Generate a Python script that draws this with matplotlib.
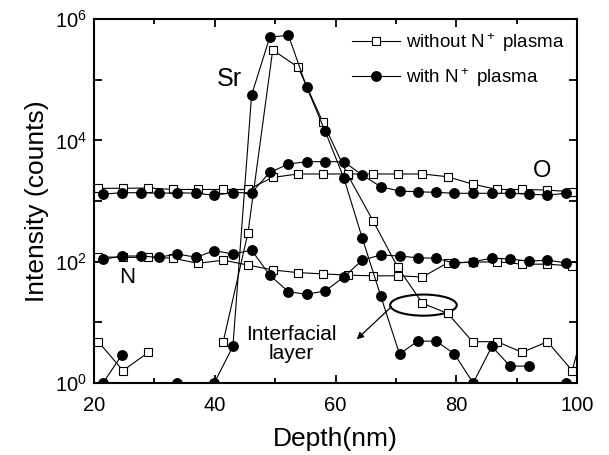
# SIMS depth profile: Sr, O and N with and without N+ plasma treatment

import numpy as np                       # for NaN gaps in the data
import matplotlib
matplotlib.use("Agg")
import matplotlib.pyplot as plt          # for plotting
from matplotlib.patches import Ellipse   # for the ellipse round the interface point
from matplotlib.ticker import LogLocator, FuncFormatter, MultipleLocator, NullLocator

plt.rcParams['font.family'] = ['Liberation Sans', 'DejaVu Sans']
plt.rcParams['mathtext.fontset'] = 'custom'
plt.rcParams['mathtext.rm'] = 'Liberation Sans'
plt.rcParams['mathtext.it'] = 'Liberation Sans:italic'
plt.rcParams['mathtext.bf'] = 'Liberation Sans:bold'

nan = np.nan

# depth grid of each measurement (nm)
depth_without = [20.7, 24.8, 29.0, 33.1, 37.2, 41.4, 45.5, 49.6, 53.8, 57.9, 62.0,
                 66.2, 70.3, 74.4, 78.6, 82.7, 86.8, 90.9, 95.1, 99.2, 103.4]
depth_with = [21.5, 24.6, 27.7, 30.7, 33.8, 36.9, 39.9, 43.0, 46.1, 49.1, 52.2, 55.2, 58.3,
              61.4, 64.4, 67.5, 70.6, 73.6, 76.7, 79.7, 82.8, 85.9, 88.9, 92.0, 95.1, 98.1]

# intensities (counts), without N+ plasma (open squares)
sr_without = [4.8, 1.6, 3.2, nan, nan, 4.8, 300, 3.1e5, 1.6e5, 2.0e4, 2700,
              475, 81, 20.6, 14, 4.8, 4.8, 3.2, 4.8, 1.6, 60]
o_without = [1620, 1620, 1640, 1550, 1550, 1550, 1550, 2450, 2790, 2790, 2790,
             2790, 2790, 2790, 2510, 1900, 1550, 1550, 1515, 1420, nan]
n_without = [120, 118, 118, 114, 94, 106, 88, 73, 66, 63, 60,
             58.5, 58.5, 56, 96, 98, 100, 91, 91, 85, nan]

# intensities (counts), with N+ plasma (filled circles)
sr_with = [1, 2.9, nan, nan, 1, nan, 1, 4, 5.6e4, 5.0e5, 5.4e5, 7.6e4, 1.4e4,
           2360, 250, 27, 3, 4.9, 4.9, 3, 1, 4, 1.9, 1.9, nan, 1]
o_with = [1300, 1370, 1370, 1340, 1370, 1340, 1250, 1370, 1370, 2960, 4070, 4450, 4450,
          4450, 2680, 1720, 1460, 1420, 1390, 1340, 1340, 1340, 1340, 1300, 1250, 1340]
n_with = [109, 124, 124, 118, 134, 118, 152, 134, 155, 60, 32, 29, 33,
          56, 106, 129, 124, 116, 114, 94, 100, 114, 111, 102, 106, 96]

fig = plt.figure(figsize=(6.09, 4.55), dpi=100)
ax = fig.add_axes([0.1544, 0.1582, 0.7931, 0.8000])

sq_style = dict(color="black", lw=0.8, marker="s", markersize=6.3,
                markerfacecolor="white", markeredgecolor="black", markeredgewidth=0.8)
ci_style = dict(color="black", lw=0.8, marker="o", markersize=6.8,
                markerfacecolor="black", markeredgecolor="black")

# one line per element and treatment
for vals in (sr_without, o_without, n_without):
    ax.plot(depth_without, vals, **sq_style)
for vals in (sr_with, o_with, n_with):
    ax.plot(depth_with, vals, **ci_style)

# legend handles
h1, = ax.plot([], [], **sq_style, label="without N$^+$ plasma")
h2, = ax.plot([], [], **ci_style, label="with N$^+$ plasma")
ax.legend(handles=[h1, h2], loc="upper left", bbox_to_anchor=(0.534, 0.967),
          frameon=False, fontsize=13.5, handlelength=2.55, handletextpad=0.35,
          labelspacing=0.65, borderpad=0, borderaxespad=0)

ax.set_yscale("log")
ax.set_xlim(20, 100)
ax.set_ylim(1, 1e6)

# ticks: every decade, label every second one
ax.yaxis.set_major_locator(LogLocator(base=10, subs=(1.0,), numticks=10))
ax.yaxis.set_minor_locator(NullLocator())
ax.yaxis.set_major_formatter(FuncFormatter(
    lambda v, p: r"$\mathdefault{10^{%d}}$" % round(np.log10(v)) if round(np.log10(v)) % 2 == 0 else ""))
ax.xaxis.set_major_locator(MultipleLocator(20))
ax.xaxis.set_minor_locator(MultipleLocator(10))
ax.tick_params(which="both", direction="in", top=True, right=True, width=1.3, labelsize=14.5)
ax.tick_params(which="major", length=6, pad=5)
ax.tick_params(axis="x", which="major", pad=9)
ax.tick_params(which="minor", length=3.5)
for s in ax.spines.values():
    s.set_linewidth(1.5)

ax.set_xlabel("Depth(nm)", fontsize=19, labelpad=9)
ax.set_ylabel("Intensity (counts)", fontsize=19, labelpad=4)

# element labels
ax.text(0.2795, 0.835, "Sr", transform=ax.transAxes, fontsize=18, ha="center", va="center")
ax.text(0.927, 0.583, "O", transform=ax.transAxes, fontsize=17, ha="center", va="center")
ax.text(0.069, 0.29, "N", transform=ax.transAxes, fontsize=16, ha="center", va="center")
ax.text(0.409, 0.107, "Interfacial\nlayer", transform=ax.transAxes, fontsize=15,
        ha="center", va="center", linespacing=1.05)

# ellipse and arrow marking the interface point
ax.add_patch(Ellipse((0.682, 0.214), 0.138, 0.058, transform=ax.transAxes,
                     fill=False, edgecolor="black", lw=1.5))
ax.annotate("", xy=(0.544, 0.120), xytext=(0.616, 0.210),
            xycoords="axes fraction", textcoords="axes fraction",
            arrowprops=dict(arrowstyle="-|>", color="black", lw=0.9, mutation_scale=10,
                            shrinkA=0, shrinkB=0))

fig.savefig("out.png", dpi=100)
